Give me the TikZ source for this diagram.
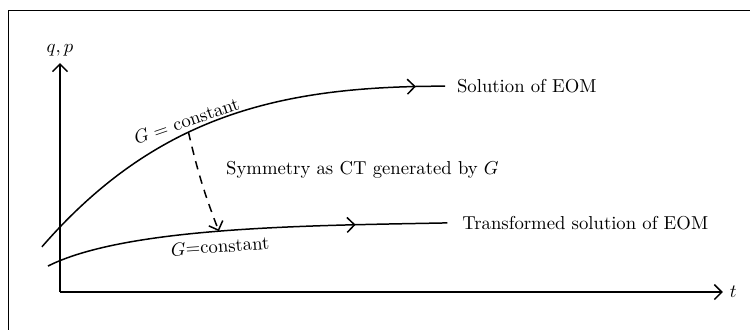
\documentclass[tikz,border=0pt]{standalone}
\usetikzlibrary{decorations.markings,arrows.meta}
\begin{document}
\begin{tikzpicture}[>={Straight Barb[length=4pt,width=8pt]}]
	\tikzstyle{curve}=[thick]
	\tikzstyle{midarrow}=[postaction={decorate},decoration={markings,mark=at position #1 with {\arrow{>}}}]
	\useasboundingbox (-1.128,-0.696) rectangle (12.97,5.49);
	\draw (-0.978,-0.8) -- (-0.978,5.30) -- (13.1,5.30);
	\coordinate (o) at (0,0);
	\coordinate (ytop) at (0,4.305);
	\coordinate (xend) at (12.46,0);
	\draw[thick,->] (o) -- (xend) node [right] (tlab) {$t$};
	\draw[thick,->] (o) -- (ytop) node [above] (qplab) {$q,p$};
	% solution and transformed solution
	\coordinate (s1) at (-0.34,0.85);
	\coordinate (e1) at (7.24,3.87);
	\coordinate (s2) at (-0.226,0.489);
	\coordinate (e2) at (7.28,1.30);
	\draw[curve,midarrow=0.935] (s1) .. controls (1.86,3.38) and (4.24,3.87) .. coordinate[pos=0.4] (g1) (e1);
	\draw[curve,midarrow=0.773] (s2) .. controls (1.27,1.24) and (4.78,1.25) .. coordinate[pos=0.48] (g2) (e2);
	\node[right,xshift=0.1cm] (sol) at (e1) {Solution of EOM};
	\node[right,xshift=0.16cm] (tsol) at (e2) {Transformed solution of EOM};
	\node[rotate=19] (gc1) at (2.38,3.22) {$G =$ constant};
	\node[rotate=4] (gc2) at (3.01,0.86) {$G$=constant};
	\draw[thick,dash pattern=on 4.5pt off 3.5pt,->] (g1) to[bend right=4] (g2);
	\node[right] (sym) at (3.0,2.29) {Symmetry as CT generated by $G$};
\end{tikzpicture}
\end{document}
